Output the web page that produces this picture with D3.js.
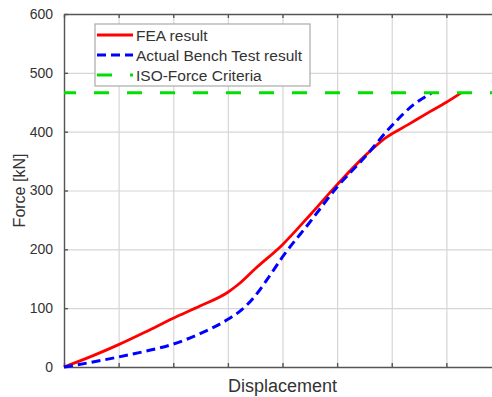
<!DOCTYPE html>
<html>
<head>
<meta charset="utf-8">
<script src="https://cdn.jsdelivr.net/npm/d3@7"></script>
<style>
  body { margin: 0; background: #fff; }
  text { font-family: "Liberation Sans", Arial, sans-serif; }
</style>
</head>
<body>
<div id="chart"></div>
<script>
// Displacement has no labelled units, grid at 0..8
var xTicks = [0, 1, 2, 3, 4, 5, 6, 7, 8];
var yTicks = [0, 100, 200, 300, 400, 500, 600];

// FEA result (red, solid)
var feaX = [0, 0.5, 1, 1.5, 2, 2.5, 3, 3.2, 3.5, 4.0, 4.5, 5.0, 5.5, 5.88, 6.3, 6.7, 7.0, 7.27];
var feaY = [0, 18, 38, 60, 83, 104, 127, 141, 167, 208, 258, 310, 358, 389, 412, 434, 450, 466];

// Actual Bench Test result (blue, dashed)
var benchX = [0, 0.5, 1, 1.5, 2, 2.5, 3, 3.25, 3.5, 3.75, 4.0, 4.5, 5.0, 5.5, 6.0, 6.4, 6.72];
var benchY = [0, 8, 17, 27, 39, 57, 81, 97, 121, 153, 187, 246, 306, 356, 410, 446, 465];

// ISO-Force criteria (green, dashed)
var isoForce = 466;

var legendLabels = ["FEA result", "Actual Bench Test result", "ISO-Force Criteria"];

var W = 492, H = 397;
var margin = { top: 14, left: 64 },
    width = 437,
    height = 353;

var svg = d3.select("#chart").append("svg")
    .attr("width", W)
    .attr("height", H);

var g = svg.append("g")
    .attr("transform", "translate(" + margin.left + "," + margin.top + ")");

var x = d3.scaleLinear().domain([0, 8]).range([0, width]);
var y = d3.scaleLinear().domain([0, 600]).range([height, 0]);

// grid lines
g.append("g")
    .attr("transform", "translate(0," + height + ")")
    .call(d3.axisBottom(x).tickValues(xTicks).tickSize(-height).tickFormat(""))
    .call(a => a.select(".domain").remove())
    .call(a => a.selectAll(".tick line").attr("stroke", "#d6d6d6").attr("stroke-width", 1.2));

g.append("g")
    .call(d3.axisLeft(y).tickValues(yTicks).tickSize(-width).tickFormat(""))
    .call(a => a.select(".domain").remove())
    .call(a => a.selectAll(".tick line").attr("stroke", "#d6d6d6").attr("stroke-width", 1.2));

// axes with inward ticks
g.append("g")
    .attr("transform", "translate(0," + height + ")")
    .call(d3.axisBottom(x).tickValues(xTicks).tickSizeInner(-4).tickSizeOuter(0).tickFormat(""))
    .call(a => a.selectAll("path, line").attr("stroke", "#555").attr("stroke-width", 1.4));

g.append("g")
    .call(d3.axisTop(x).tickValues(xTicks).tickSizeInner(-4).tickSizeOuter(0).tickFormat(""))
    .call(a => a.selectAll("path, line").attr("stroke", "#555").attr("stroke-width", 1.4));

g.append("g")
    .call(d3.axisLeft(y).tickValues(yTicks).tickSizeInner(-4).tickSizeOuter(0).tickPadding(11))
    .call(a => a.selectAll("path, line").attr("stroke", "#555").attr("stroke-width", 1.4))
    .call(a => a.selectAll("text")
        .attr("fill", "#333")
        .style("font-size", "14px")
        .style("font-family", "'Liberation Sans', Arial, sans-serif"));

// axis titles
svg.append("text")
    .attr("x", margin.left + width / 2)
    .attr("y", 392)
    .attr("text-anchor", "middle")
    .attr("fill", "#333")
    .style("font-size", "18px")
    .text("Displacement");

svg.append("text")
    .attr("transform", "translate(25," + (margin.top + height / 2) + ") rotate(-90)")
    .attr("text-anchor", "middle")
    .attr("fill", "#333")
    .style("font-size", "16px")
    .text("Force [kN]");

// data lines
var line = d3.line()
    .x(d => x(d[0]))
    .y(d => y(d[1]))
    .curve(d3.curveMonotoneX);

var feaData = feaX.map((v, i) => [v, feaY[i]]);
var benchData = benchX.map((v, i) => [v, benchY[i]]);

g.append("path")
    .datum(feaData)
    .attr("d", line)
    .attr("fill", "none")
    .attr("stroke", "#ff0000")
    .attr("stroke-width", 2.8);

g.append("path")
    .datum(benchData)
    .attr("d", line)
    .attr("fill", "none")
    .attr("stroke", "#0000ff")
    .attr("stroke-width", 3)
    .attr("stroke-dasharray", "9,5");

g.append("line")
    .attr("x1", x(0))
    .attr("x2", W - margin.left)
    .attr("y1", y(isoForce))
    .attr("y2", y(isoForce))
    .attr("stroke", "#00e000")
    .attr("stroke-width", 3)
    .attr("stroke-dasharray", "15,18")
    .attr("stroke-dashoffset", 3);

// legend
var legend = svg.append("g").attr("transform", "translate(95,24)");
legend.append("rect")
    .attr("width", 215)
    .attr("height", 62)
    .attr("fill", "#fff")
    .attr("stroke", "#aaa")
    .attr("stroke-width", 1.2);

var legendStyles = [
    { color: "#ff0000", dash: null },
    { color: "#0000ff", dash: "9,5" },
    { color: "#00e000", dash: "15,18" }
];

legendLabels.forEach(function (label, i) {
    var ly = 11 + i * 20;
    legend.append("line")
        .attr("x1", 2)
        .attr("x2", 38)
        .attr("y1", ly)
        .attr("y2", ly)
        .attr("stroke", legendStyles[i].color)
        .attr("stroke-width", 3)
        .attr("stroke-dasharray", legendStyles[i].dash);
    legend.append("text")
        .attr("x", 41)
        .attr("y", ly)
        .attr("dy", "0.36em")
        .attr("fill", "#333")
        .style("font-size", "15.5px")
        .text(label);
});
</script>
</body>
</html>
